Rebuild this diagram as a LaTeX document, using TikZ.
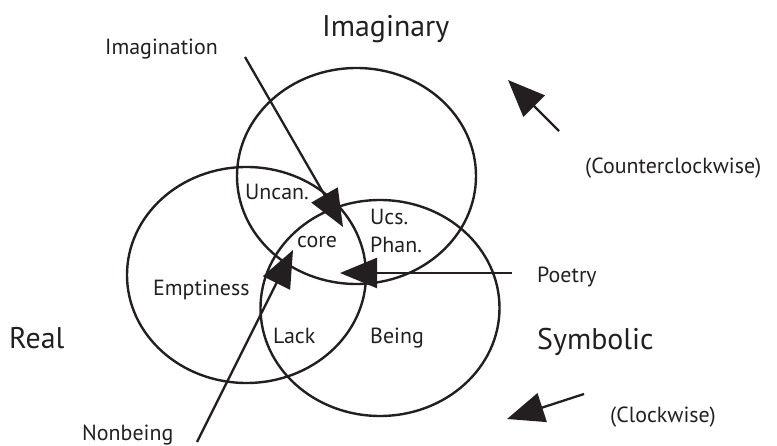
\documentclass[tikz,border=0pt]{standalone}
\usepackage{fontspec}
\setmainfont{PT Sans}
\usetikzlibrary{arrows.meta}
\definecolor{ink}{HTML}{231F20}
\begin{document}
\begin{tikzpicture}[x=1bp,y=-1bp,
  ring/.style={line width=2.4bp, draw=ink},
  conn/.style={line width=2.3bp, draw=ink, fill=ink, -{Triangle[length=37bp,width=30bp]}},
  big/.style={font=\fontsize{30}{34}\selectfont, text=ink, inner sep=0pt, anchor=base west},
  lab/.style={font=\fontsize{22}{26}\selectfont, text=ink, inner sep=0pt, anchor=base west}]
\useasboundingbox (0,0) rectangle (777,446);
% circles
\draw[ring] (356.5,176) ellipse [x radius=119.5bp, y radius=108bp];
\draw[ring] (246.5,275) ellipse [x radius=119.5bp, y radius=108bp];
\draw[ring] (380,308) ellipse [x radius=119.5bp, y radius=108bp];
% titles
\node[big] (imag) at (322,37) {Imaginary};
\node[big] (real) at (9,349) {Real};
\node[big] (symb) at (537,350) {Symbolic};
% region labels
\node[lab] (uncan) at (245,200) {Uncan.};
\node[lab] (core) at (297,248) {core};
\node[lab] (ucs) at (370,225) {Ucs.};
\node[lab] (phan) at (370,253) {Phan.};
\node[lab] (empt) at (153,296) {Emptiness};
\node[lab] (lack) at (273,344) {Lack};
\node[lab] (being) at (370,344) {Being};
% outside labels
\node[lab] (imgn) at (105,55) {Imagination};
\node[lab] (poet) at (537,283) {Poetry};
\node[lab] (nonb) at (82,440) {Nonbeing};
\node[lab] (ccw) at (585,174) {(Counterclockwise)};
\node[lab] (cw) at (610,422) {(Clockwise)};
% connector ends
\coordinate (imgnS) at (245,57);
\coordinate (imgnT) at (343,227);
\coordinate (poetS) at (512,273);
\coordinate (poetT) at (340,273);
\coordinate (nonbS) at (197,442);
\coordinate (nonbT) at (293,250);
\coordinate (ccwS) at (559,131);
\coordinate (ccwT) at (508,80);
\coordinate (cwS) at (584,394);
\coordinate (cwT) at (507,419);
\draw[conn] (imgnS) -- (imgnT);
\draw[conn] (poetS) -- (poetT);
\draw[conn] (nonbS) -- (nonbT);
\draw[conn] (ccwS) -- (ccwT);
\draw[conn] (cwS) -- (cwT);
\end{tikzpicture}
\end{document}
